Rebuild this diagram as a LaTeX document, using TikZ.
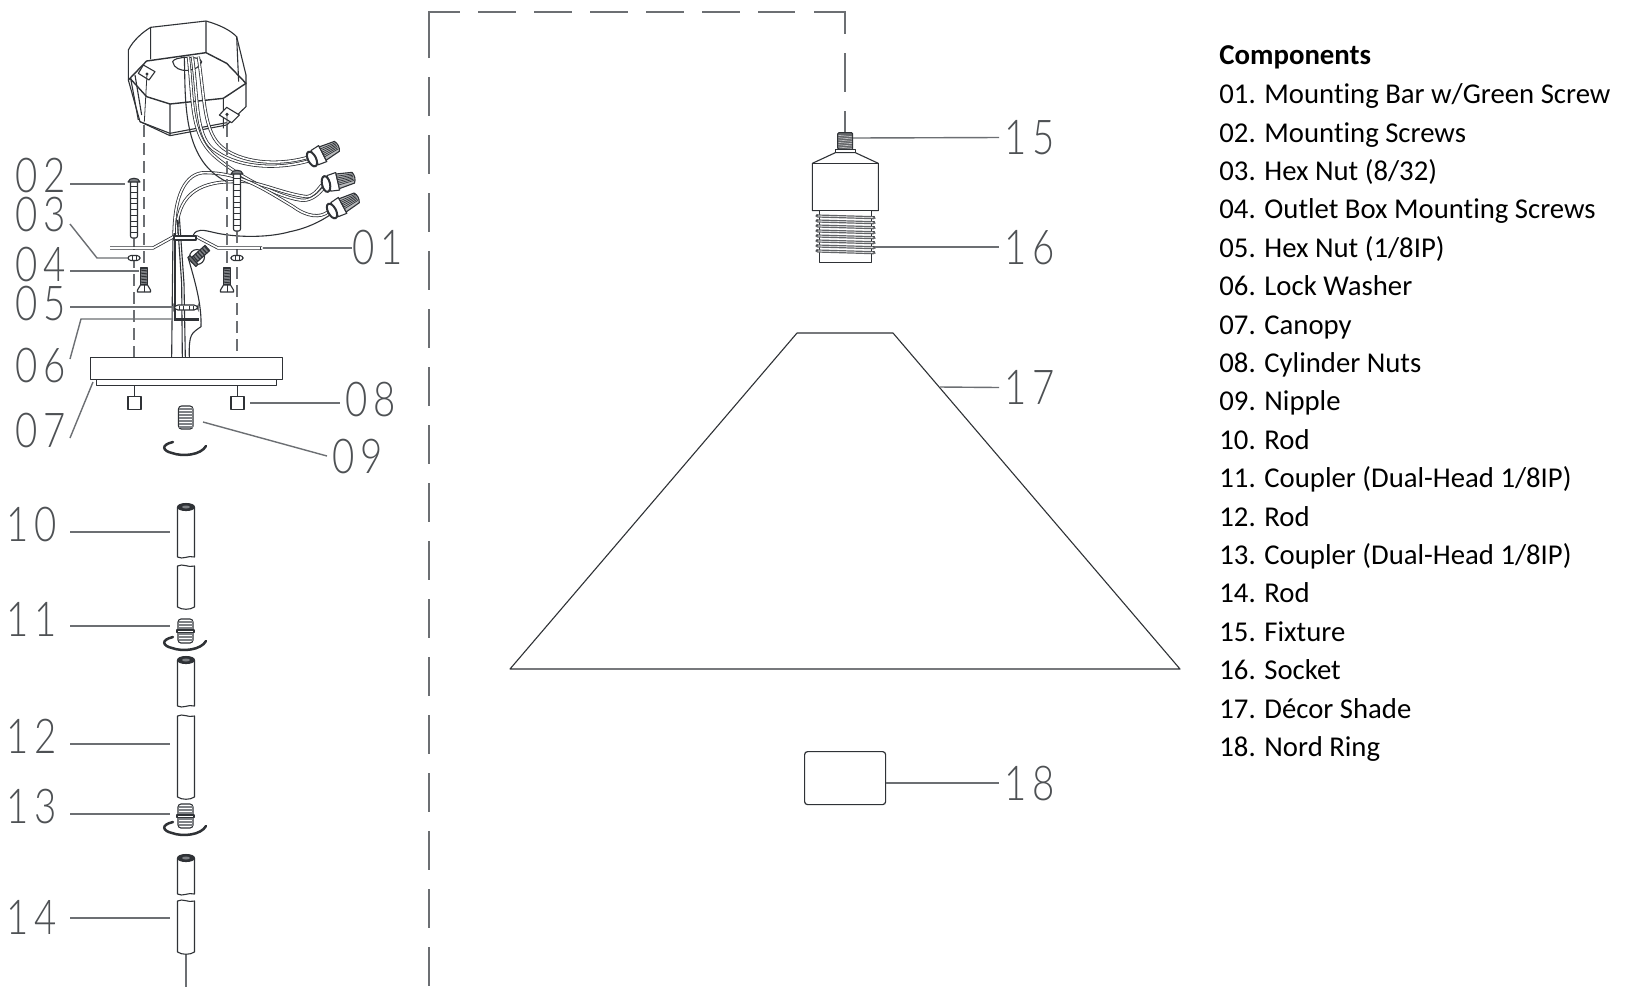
\documentclass[tikz,border=0pt]{standalone}
\usepackage{fontspec}
\setmainfont[Ligatures=NoCommon]{Carlito}
\newfontfamily\digfont[FakeStretch=0.8,LetterSpace=13]{Lato Light}
\usetikzlibrary{calc}
\definecolor{ink}{HTML}{2F3236}
\definecolor{lead}{HTML}{6C6F73}
\definecolor{rib}{HTML}{7E8185}
\tikzset{
  part/.style={draw=ink,line width=.55pt,line join=round},
  thinpart/.style={draw=ink,line width=.4pt},
  leader/.style={draw=lead,line width=.7pt},
  dashrun/.style={draw=lead,line width=.65pt},
  wirepath/.style={draw=ink,line width=.4pt,double=white,double distance=.8pt},
  arcmark/.style={draw=ink,line width=1.25pt,line cap=round},
  dig/.style={font=\digfont\fontsize{24}{24}\selectfont,text=ink!85,inner sep=0pt,outer sep=0pt,anchor=west},
  item/.style={anchor=base west,inner sep=0pt,font=\fontsize{14.36}{16}\selectfont,text=black},
  vdash/.style={draw=lead,line width=.55pt,dash pattern=on 6pt off 3pt},
}
\newcommand{\toprod}[2]{% top ellipse centre y, broken bottom y
  \draw[part,fill=white] (177.5,#1) -- (177.5,#2) .. controls (183,#2+3) and (188,#2-2) .. (194.5,#2) -- (194.5,#1);
  \draw[part,fill=ink] (186,#1) ellipse [x radius=8.5,y radius=3.5];
  \fill[rib] (186,#1) ellipse [x radius=4,y radius=1.5];
}
\newcommand{\botrod}[2]{% broken top y, rounded bottom y
  \draw[part,fill=white] (177.5,#1) .. controls (183,#1-3) and (188,#1+2) .. (194.5,#1) -- (194.5,#2-3) .. controls (190,#2) and (182,#2) .. (177.5,#2-3) -- cycle;
}
\newcommand{\couplerpart}[1]{% top y
  \draw[part,fill=white,rounded corners=1.5] (178,#1) rectangle (193,#1+24);
  \foreach \k in {3,6,9,15,18,21}{\draw[draw=rib,line width=.8pt] (178.5,#1+\k) -- (192.5,#1+\k);}
  \draw[part,fill=white] (177,#1+11) rectangle (194,#1+13.5);
}
\newcommand{\arcpart}[1]{% centre y of the arc
  \draw[arcmark] (173,#1-6) .. controls (160,#1-3) and (163,#1+3) .. (172,#1+5) .. controls (183,#1+9) and (201,#1+7) .. (206,#1-2);
}
\newcommand{\longscrew}[3]{% x, top y, bottom y
  \draw[part,fill=white,rounded corners=1] (#1-3.5,#2+3) rectangle (#1+3.5,#3);
  \foreach \r in {1,...,9}{\draw[thinpart] (#1-3.5,{#2+3+(#3-#2-3)*\r/10}) -- (#1+3.5,{#2+3+(#3-#2-3)*\r/10});}
  \draw[part,fill=rib] (#1-6,#2+4) .. controls (#1-5,#2-1) and (#1+5,#2-1) .. (#1+6,#2+4) -- cycle;
}
\newcommand{\hexpart}[2]{%
  \draw[part,fill=white,rounded corners=1.5] (#1-6,#2-2.5) rectangle (#1+6,#2+2.5);
  \draw[thinpart] (#1-2,#2-2.5) -- (#1-2,#2+2.5) (#1+2,#2-2.5) -- (#1+2,#2+2.5);
}
\newcommand{\boxscrew}[1]{%
  \draw[part,fill=rib] (#1-3.5,268) rectangle (#1+3.5,285);
  \foreach \r in {270,273,...,283}{\draw[draw=ink,line width=.5pt] (#1-3.5,\r) -- (#1+3.5,\r+1);}
  \draw[part,fill=white] (#1-3.5,285) -- (#1+3.5,285) -- (#1+6.5,290) -- (#1+6.5,292) -- (#1-6.5,292) -- (#1-6.5,290) -- cycle;
  \draw[thinpart] (#1,285) -- (#1,292);
}
\tikzset{wirenut/.pic={
  \draw[part,fill=white] (3,-8) -- (12,-9) -- (12,9) -- (3,8) -- cycle;
  \draw[part,fill=rib!55] (12,-7.5) -- (28,-5.5) .. controls (30,-2) and (30,2) .. (28,5.5) -- (12,7.5) -- cycle;
  \foreach \q in {-5.2,-3.4,...,5.4}{\draw[draw=ink,line width=.35pt] (12,\q) -- (28,\q*.75);}
  \draw[draw=ink,line width=1pt,fill=white] (0,0) ellipse [x radius=4,y radius=8];
}}
\begin{document}
\begin{tikzpicture}[x=0.5pt,y=-0.5pt]
\useasboundingbox (0,0) rectangle (1632,987);
\fill[white] (0,0) rectangle (1632,987);

% ---------- dashed hanging line
\coordinate (fa) at (429,58); \coordinate (fb) at (429,12); \coordinate (fc) at (460,12);
\coordinate (fd) at (478,12); \coordinate (fe) at (795,12);
\coordinate (ff) at (814,12); \coordinate (fg) at (845,12); \coordinate (fh) at (845,34);
\coordinate (fi) at (845,53); \coordinate (fj) at (845,92);
\coordinate (fk) at (845,111); \coordinate (fl) at (845,134);
\coordinate (fm) at (429,77); \coordinate (fn) at (429,987);
\draw[dashrun] (fa) -- (fb) -- (fc);
\draw[dashrun,dash pattern=on 18.8pt off 9.2pt] (fd) -- (fe);
\draw[dashrun] (ff) -- (fg) -- (fh);
\draw[dashrun] (fi) -- (fj);
\draw[dashrun] (fk) -- (fl);
\draw[dashrun,dash pattern=on 19.4pt off 9.6pt] (fm) -- (fn);

% ---------- junction box, wires (in units of a third of a pixel)
\begin{scope}[scale=1/3]
  \draw[part] (385,150) .. controls (400,120) and (430,95) .. (452,82) -- (618,63) .. controls (660,75) and (690,90) .. (710,110) -- (738,225) -- (738,320) -- (680,375) -- (510,407) -- (420,365) -- (385,240) -- cycle;
  \draw[part,line width=.7pt] (385,240) -- (440,183) -- (618,158) -- (680,190) -- (738,250) -- (670,295) -- (510,312) -- (440,290) -- (390,235);
  \draw[part] (452,82) -- (452,178) (618,63) -- (618,158) (510,312) -- (510,407) (670,295) -- (670,385) (710,110) -- (716,245);
  \draw[part] (405,225) -- (425,345) (392,235) -- (415,360);
  \draw[part] (420,365) -- (510,400) -- (680,368);
  \draw[part,fill=white] (518,185) .. controls (520,170) and (600,165) .. (605,185) .. controls (600,215) and (525,225) .. (518,185) -- cycle;
  \draw[part,fill=white] (430,195) -- (465,215) -- (447,240) -- (415,220) -- cycle;
  \draw[part,fill=white] (680,322) -- (718,345) -- (695,368) -- (658,345) -- cycle;
  \fill[ink] (441,222) circle (5) (681,343) circle (5);
  \draw[thinpart] (441,222) -- (433,365) (681,343) -- (681,380);
  \draw[wirepath] (577,170) .. controls (595,300) and (585,420) .. (650,455) .. controls (720,505) and (840,510) .. (935,480);
  \draw[wirepath] (595,170) .. controls (615,300) and (610,400) .. (670,445) .. controls (740,495) and (850,495) .. (930,470);
  \draw[wirepath] (565,170) .. controls (580,300) and (570,400) .. (640,465) .. controls (700,520) and (830,590) .. (900,600) .. controls (925,605) and (950,590) .. (970,565);
  \draw[wirepath] (530,700) .. controls (530,590) and (590,545) .. (700,545) .. controls (760,535) and (840,580) .. (920,590) .. controls (935,590) and (950,575) .. (965,555);
  \draw[wirepath] (522,700) .. controls (525,560) and (570,515) .. (620,518) .. controls (720,520) and (780,560) .. (880,620) .. controls (920,650) and (960,655) .. (985,635);
  \draw[part] (553,170) .. controls (557,300) and (545,480) .. (680,545);
  \draw[part] (580,705) .. controls (590,685) and (610,690) .. (640,697) .. controls (700,712) and (800,715) .. (870,695) .. controls (920,685) and (960,665) .. (990,645);
  % wires below the bar
  \draw[part] (515,1072) -- (517,880) -- (519,700);
  \draw[part] (525,960) -- (525,700);
  \draw[part] (547,1072) -- (545,850) -- (532,660);
  \draw[part] (556,1072) -- (552,850) -- (538,650);
  \draw[part] (568,1072) .. controls (566,1000) and (575,1000) .. (603,980) .. controls (605,920) and (590,860) .. (565,775);
\end{scope}

\pic[rotate=27] at (312,159) {wirenut};
\pic[rotate=13] at (326,184) {wirenut};
\pic[rotate=28] at (332,211) {wirenut};

% dashed guides
\coordinate (ga) at (144,125); \coordinate (gb) at (144,266);
\coordinate (gc) at (227,125); \coordinate (gd) at (227,266);
\coordinate (ge) at (134,238); \coordinate (gf) at (134,357);
\coordinate (gg) at (237,231); \coordinate (gh) at (237,357);
\draw[vdash] (ga) -- (gb);
\draw[vdash] (gc) -- (gd);
\draw[vdash] (ge) -- (gf);
\draw[vdash] (gg) -- (gh);

% bar 01
\coordinate (bar1) at (110,248); \coordinate (bar2) at (153,248); \coordinate (bar3) at (173,237);
\coordinate (bar4) at (197,237); \coordinate (bar5) at (218,248); \coordinate (bar6) at (262,248);
\draw[draw=ink,line width=.4pt,double=white,double distance=.8pt] (bar1) -- (bar2) -- (bar3) -- (bar4) -- (bar5) -- (bar6);
\draw[thinpart] (260,246.5) -- (260,249.5);
\draw[part,fill=white] (174,236) rectangle (196,240);

% screws and nuts
\longscrew{134}{178}{238}
\longscrew{237}{170}{231}
\hexpart{134}{258}
\hexpart{237}{258}
\boxscrew{144}
\boxscrew{227}
% green screw
\draw[part,fill=white] (197,257) circle (7.5);
\begin{scope}[shift={(194,260)},rotate=42]
  \draw[part,fill=rib] (0,-3.5) rectangle (18,3.5);
  \foreach \r in {2,5,8,11,14,17}{\draw[draw=ink,line width=.6pt] (\r,-3.5) -- (\r,3.5);}
  \draw[part,fill=ink!70] (-3,-6) rectangle (0,6);
\end{scope}

% nut 05 and washer 06
\node[draw=ink,line width=.55pt,fill=white,rounded corners=2,minimum width=12pt,minimum height=2.5pt,inner sep=0pt] (nutfive) at (186,307.5) {};
\foreach \q in {179,183,189,193}{\draw[thinpart] (\q,305.5) -- (\q,310);}
\node[draw=ink,fill=ink,line width=.3pt,minimum width=12pt,minimum height=1pt,inner sep=0pt] (washersix) at (186,319) {};

% canopy
\node[part,fill=white,anchor=north west,minimum width=96pt,minimum height=11pt,inner sep=0pt] (canopy) at (90,357) {};
\node[part,fill=white,anchor=north west,minimum width=90pt,minimum height=3pt,inner sep=0pt] (canopyb) at (96,379) {};
\node[part,fill=white,minimum width=6.5pt,minimum height=6.5pt,inner sep=0pt] (cyla) at (134.5,403) {};
\node[part,fill=white,minimum width=6.5pt,minimum height=6.5pt,inner sep=0pt] (cylb) at (237.5,403) {};
\draw[part] (cyla.north) -- (cyla.north |- canopyb.south);
\draw[part] (cylb.north) -- (cylb.north |- canopyb.south);

% nipple 09
\draw[part,fill=white,rounded corners=1.5] (178.5,406) rectangle (193,429);
\foreach \r in {409,412,...,427}{\draw[draw=rib,line width=.55pt] (179,\r) -- (192.5,\r);}
\arcpart{448}

% rods
\toprod{507}{557}
\botrod{566}{610}
\couplerpart{619}
\arcpart{643}
\toprod{660}{706}
\botrod{716}{800}
\couplerpart{804}
\arcpart{828}
\toprod{858}{894}
\botrod{901}{955}
\coordinate (rodend) at (186,955); \coordinate (rodfoot) at (186,987);
\draw[leader] (rodend) -- (rodfoot);

% ---------- fixture and socket
\begin{scope}[shift={(780,90)},scale=1/3]
  \draw[part,fill=ink!75,rounded corners=.6pt] (173,128) rectangle (218,178);
  \foreach \r in {136,143,...,171}{\draw[draw=white!70!ink,line width=.35pt] (175,\r) -- (216,\r+4);}
  \draw[part,fill=white] (166,178) rectangle (226,189);
  \draw[part,fill=white] (166,188) -- (97,220) -- (97,362) -- (295,362) -- (295,220) -- (226,188) -- cycle;
  \draw[part] (97,220) -- (295,220);
  \draw[part,fill=white] (118,362) -- (118,518) -- (275,518) -- (275,362);
  \foreach \r in {375,390,...,490}{
    \draw[draw=ink!75,line width=.6pt,fill=white] (113,\r) -- (280,\r+5) .. controls (286,\r+7) and (286,\r+12) .. (280,\r+11) -- (113,\r+6) .. controls (107,\r+6) and (107,\r) .. (113,\r) -- cycle;
    \fill[ink] (111,\r) circle (2.5) (282,\r+5) circle (2.5);
  }
\end{scope}
\coordinate (p15) at (853,138);
\coordinate (p16) at (875,247);

% shade and ring
\coordinate (sa) at (797,333); \coordinate (sb) at (893,333); \coordinate (sc) at (1180,669); \coordinate (sd) at (510,669);
\draw[part] (sa) -- (sb) -- (sc) -- (sd) -- cycle;
\node[draw=ink,line width=.6pt,rounded corners=1.5,minimum width=40.5pt,minimum height=26.5pt,inner sep=0pt,anchor=north west] (ring) at (804,751) {};

% ---------- callout numbers
\foreach \nm/\tx/\xx/\yy in {L02/02/15/175.5,L03/03/15/214.5,L04/04/15/264.5,L05/05/15/303.5,L06/06/15/365.5,L07/07/15/430.5,L10/10/6/524.5,L11/11/6/619.5,L12/12/6/736.5,L13/13/6/806.5,L14/14/6/917,L01/01/352/247.5,L08/08/345/399.5,L09/09/332/456.5,L15/15/1004/137.5,L16/16/1004/247.5,L17/17/1004/387.5,L18/18/1004/784}
  {\node[dig] (\nm) at (\xx,\yy) {\tx};}

% ---------- leaders
\coordinate (p01) at (263,248); \coordinate (p02) at (125,184); \coordinate (k03) at (97,258); \coordinate (p03) at (127,258);
\coordinate (p04) at (139,271); \coordinate (p05) at (174,307); \coordinate (k06) at (81,319); \coordinate (p06) at (173,319);
\coordinate (p07) at (93,382); \coordinate (p08) at (250,403); \coordinate (p09) at (203,422);
\coordinate (p10) at (170,532); \coordinate (p11) at (170,626); \coordinate (p12) at (170,744); \coordinate (p13) at (170,814); \coordinate (p14) at (170,918);
\coordinate (p17) at (940,387); \coordinate (lc) at (70,0); \coordinate (rc) at (999,0);
\coordinate (q01) at (352,248); \coordinate (q08) at (340,403);
\coordinate (q03) at (70,224); \coordinate (q07) at (70,438); \coordinate (q06) at (70,359);
\coordinate (q09) at (327,456); \coordinate (p18) at (886,783);
\draw[leader] (p01) -- (q01);
\draw[leader] (lc |- p02) -- (p02);
\draw[leader] (q03) -- (k03) -- (p03);
\draw[leader] (lc |- p04) -- (p04);
\draw[leader] (lc |- p05) -- (p05);
\draw[leader] (q06) -- (k06) -- (p06);
\draw[leader] (q07) -- (p07);
\draw[leader] (p08) -- (q08);
\draw[leader] (p09) -- (q09);
\draw[leader] (lc |- p10) -- (p10);
\draw[leader] (lc |- p11) -- (p11);
\draw[leader] (lc |- p12) -- (p12);
\draw[leader] (lc |- p13) -- (p13);
\draw[leader] (lc |- p14) -- (p14);
\draw[leader] (p15) -- (rc |- L15.west);
\draw[leader] (p16) -- (rc |- p16);
\draw[leader] (p17) -- (rc |- L17.west);
\draw[leader] (ring.east |- p18) -- (rc |- p18);

% ---------- component list
\node[item,font=\fontsize{14.4}{16}\selectfont\bfseries] (hd) at (1219,64.5) {Components};
\node[item] (c01) at (1219,103.5) {01. Mounting Bar w/Green Screw};
\node[item] (c02) at (1219,142) {02. Mounting Screws};
\node[item] (c03) at (1219,180.5) {03. Hex Nut (8/32)};
\node[item] (c04) at (1219,218.9) {04. Outlet Box Mounting Screws};
\node[item] (c05) at (1219,257.3) {05. Hex Nut (1/8IP)};
\node[item] (c06) at (1219,295.7) {06. Lock Washer};
\node[item] (c07) at (1219,334.1) {07. Canopy};
\node[item] (c08) at (1219,372.5) {08. Cylinder Nuts};
\node[item] (c09) at (1219,410.9) {09. Nipple};
\node[item] (c10) at (1219,449.3) {10. Rod};
\node[item] (c11) at (1219,487.7) {11. Coupler (Dual-Head 1/8IP)};
\node[item] (c12) at (1219,526.1) {12. Rod};
\node[item] (c13) at (1219,564.5) {13. Coupler (Dual-Head 1/8IP)};
\node[item] (c14) at (1219,602.9) {14. Rod};
\node[item] (c15) at (1219,641.3) {15. Fixture};
\node[item] (c16) at (1219,679.7) {16. Socket};
\node[item] (c17) at (1219,718.1) {17. Décor Shade};
\node[item] (c18) at (1219,756.5) {18. Nord Ring};
\end{tikzpicture}
\end{document}
